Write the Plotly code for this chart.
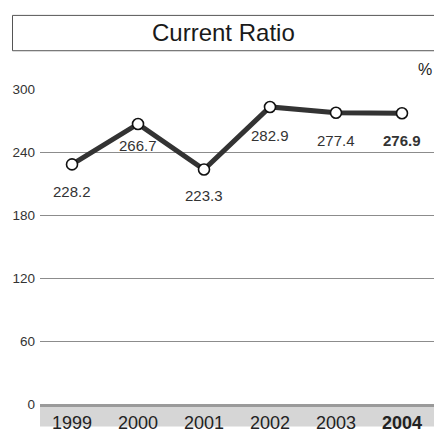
import plotly.graph_objects as go

years = ["1999", "2000", "2001", "2002", "2003", "2004"]
ratio = [228.2, 266.7, 223.3, 282.9, 277.4, 276.9]
value_labels = ["228.2", "266.7", "223.3", "282.9", "277.4", "276.9"]
y_ticks = [0, 60, 120, 180, 240, 300]
title_text = "Current Ratio"
unit_text = "%"

W, H = 434, 433
L, R, T, B = 40, 0, 89, 23
PW, PH = W - L - R, H - T - B


def px(x):
    return (x - L) / PW


def py(y):
    return (H - B - y) / PH


label_shift = [27, 22, 26, 29, 28, 27]
xi = list(range(len(years)))

fig = go.Figure()
fig.add_trace(go.Scatter(
    x=xi, y=ratio, mode="lines+markers",
    line=dict(color="#333333", width=5),
    marker=dict(size=11, color="white", line=dict(color="#111111", width=1.6)),
    cliponaxis=False, hoverinfo="skip", showlegend=False,
))

annotations = []
for i, (v, t) in enumerate(zip(ratio, value_labels)):
    bold = i == len(years) - 1
    annotations.append(dict(
        x=i, y=v, xref="x", yref="y", text=f"<b>{t}</b>" if bold else t,
        showarrow=False, yshift=-label_shift[i], xanchor="center", yanchor="middle",
        font=dict(family="Liberation Sans, Arial", size=15, color="#333333"),
    ))

annotations.append(dict(
    x=px(223.5), y=py(31), xref="paper", yref="paper", text=title_text, showarrow=False,
    xanchor="center", yanchor="middle",
    font=dict(family="Liberation Sans, Arial", size=24, color="#1a1a1a"),
))
annotations.append(dict(
    x=px(434), y=py(69), xref="paper", yref="paper", text=unit_text, showarrow=False,
    xanchor="right", yanchor="middle",
    font=dict(family="Liberation Sans, Arial", size=16, color="#222222"),
))

shapes = [
    # grey band under the x axis
    dict(type="rect", xref="paper", yref="paper", x0=0, x1=px(440), y0=py(433), y1=0,
         fillcolor="#d6d6d6", line=dict(width=0), layer="below"),
    # title box
    dict(type="rect", xref="paper", yref="paper", x0=px(12.5), x1=px(440), y0=py(50), y1=py(14),
         fillcolor="rgba(0,0,0,0)", line=dict(color="#555555", width=1)),
]

ticktext = [f"<b>{y}</b>" if i == len(years) - 1 else y for i, y in enumerate(years)]

fig.update_layout(
    width=W, height=H,
    margin=dict(l=L, r=R, t=T, b=B, pad=0),
    paper_bgcolor="white", plot_bgcolor="white",
    xaxis=dict(range=[-0.485, 5.485], tickvals=xi, ticktext=ticktext, showgrid=False,
               zeroline=False, showline=True, linecolor="#9a9a9a", linewidth=3,
               ticks="", ticklabelstandoff=0,
               tickfont=dict(family="Liberation Sans, Arial", size=18, color="#222222"),
               fixedrange=True),
    yaxis=dict(range=[0, 300], tickvals=y_ticks, showgrid=True, gridcolor="#8c8c8c", gridwidth=1,
               zeroline=False, showline=False, ticks="", ticklabelstandoff=4,
               tickfont=dict(family="Liberation Sans, Arial", size=13.5, color="#333333"),
               fixedrange=True),
    annotations=annotations, shapes=shapes,
)

fig.write_html("out.html")
